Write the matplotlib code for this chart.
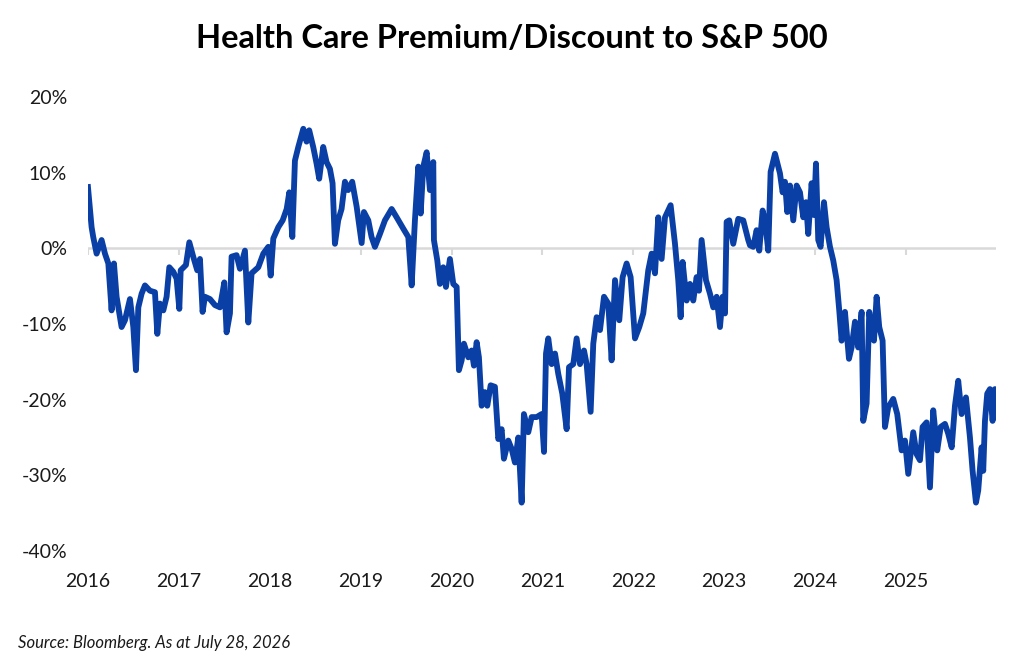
import matplotlib
matplotlib.use("Agg")
import matplotlib.pyplot as plt
from matplotlib.ticker import FuncFormatter

# decimal years after 2016 and premium/discount in %
t_part1 = [0.00, 0.04, 0.058, 0.095, 0.15, 0.187, 0.224, 0.26, 0.286, 0.315, 0.37, 0.407,
           0.462, 0.499, 0.528, 0.554, 0.59, 0.627, 0.682, 0.737, 0.763, 0.792, 0.829, 0.865,
           0.895, 0.939, 0.975, 1.005, 1.02, 1.078, 1.115, 1.158, 1.202, 1.232, 1.261, 1.287,
           1.342, 1.397, 1.452, 1.5, 1.525, 1.562, 1.58, 1.635, 1.672, 1.727, 1.764, 1.8,
           1.874, 1.929, 1.984, 2.01, 2.039, 2.094, 2.142, 2.186, 2.215, 2.248, 2.277, 2.314,
           2.369, 2.405, 2.434, 2.478, 2.515, 2.544, 2.588, 2.625, 2.662, 2.691, 2.717, 2.753,
           2.79, 2.827, 2.863, 2.907, 2.956, 3.011, 3.036, 3.084, 3.12, 3.157, 3.212, 3.267,
           3.341, 3.396, 3.469, 3.524, 3.561, 3.597, 3.634, 3.66, 3.689, 3.726, 3.762, 3.799]
v_part1 = [8.1, 2.8, 1.5, -0.7, 1.1, -0.7, -2.0, -8.2, -2.0, -6.4, -10.4, -9.5,
           -6.7, -10.4, -16.1, -7.8, -6.0, -4.9, -5.6, -5.8, -11.3, -7.3, -8.2, -6.4,
           -2.5, -3.1, -4.0, -8.0, -2.9, -2.2, 0.8, -1.1, -2.9, -1.4, -8.4, -6.4,
           -6.7, -7.5, -7.8, -4.5, -11.1, -8.6, -1.1, -0.9, -2.7, -0.3, -9.8, -3.3,
           -2.5, -0.7, 0.2, -3.6, 1.3, 2.8, 3.7, 5.2, 7.4, 1.5, 11.6, 13.4,
           15.8, 14.1, 15.6, 13.4, 11.2, 9.2, 13.4, 11.4, 10.5, 8.6, 0.6, 3.7,
           5.2, 8.8, 7.7, 8.8, 5.5, 0.7, 4.8, 3.7, 1.5, 0.2, 1.9, 3.7,
           5.2, 4.1, 2.6, 1.5, -4.9, 3.7, 10.8, 4.6, 10.8, 12.7, 7.7, 11.4]

t_part2 = [3.806, 3.843, 3.872, 3.909, 3.938, 3.982, 4.019, 4.056, 4.081, 4.111, 4.136, 4.184,
           4.221, 4.246, 4.276, 4.301, 4.331, 4.367, 4.393, 4.43, 4.477, 4.514, 4.551, 4.576,
           4.624, 4.661, 4.697, 4.734, 4.771, 4.796, 4.844, 4.881, 4.936, 4.991, 5.017, 5.039,
           5.064, 5.101, 5.138, 5.174, 5.218, 5.266, 5.292, 5.339, 5.376, 5.413, 5.457, 5.486,
           5.53, 5.559, 5.596, 5.633, 5.677, 5.724, 5.761, 5.798, 5.845, 5.882, 5.926, 5.97,
           6.018, 6.065, 6.109, 6.164, 6.201, 6.238, 6.274, 6.311, 6.348, 6.41, 6.458, 6.494,
           6.52, 6.542, 6.586, 6.623, 6.659, 6.696, 6.722, 6.751, 6.799, 6.843, 6.879, 6.916,
           6.953, 6.982, 7.008, 7.026, 7.055, 7.099, 7.154, 7.209, 7.264]
v_part2 = [1.1, -1.6, -4.7, -2.5, -5.1, -1.4, -4.7, -5.1, -16.1, -14.8, -12.6, -14.4,
           -13.5, -15.5, -12.4, -14.4, -20.8, -19.0, -20.8, -18.1, -18.3, -25.2, -23.9, -27.8,
           -25.4, -26.5, -28.3, -25.0, -33.6, -21.9, -24.3, -22.3, -22.3, -21.9, -26.9, -13.9,
           -11.9, -15.3, -13.9, -16.6, -19.2, -23.9, -15.7, -15.3, -11.9, -15.3, -13.5, -15.3,
           -21.6, -12.6, -9.1, -10.8, -6.4, -7.3, -14.8, -4.2, -9.5, -3.8, -2.0, -3.8,
           -11.9, -10.4, -8.6, -2.9, -0.7, -3.3, 4.1, -1.4, 4.1, 5.7, 0.6, -4.2,
           -9.1, -1.8, -6.9, -4.7, -6.9, -3.8, -5.6, 1.1, -4.2, -6.0, -7.8, -6.4,
           -10.4, -6.4, -8.6, 3.5, 3.7, 0.6, 3.9, 3.7, 1.1]

t_part3 = [7.283, 7.319, 7.356, 7.385, 7.422, 7.448, 7.484, 7.51, 7.558, 7.613, 7.642, 7.668,
           7.693, 7.723, 7.759, 7.796, 7.833, 7.869, 7.899, 7.924, 7.961, 7.987, 8.009, 8.034,
           8.06, 8.097, 8.126, 8.163, 8.199, 8.236, 8.265, 8.291, 8.328, 8.372, 8.401, 8.438,
           8.474, 8.511, 8.529, 8.566, 8.595, 8.621, 8.647, 8.676, 8.705, 8.742, 8.768, 8.804,
           8.859, 8.903, 8.951, 8.988, 9.024, 9.079, 9.116, 9.153, 9.182, 9.226, 9.263, 9.299,
           9.343, 9.381, 9.428, 9.464, 9.502, 9.538, 9.574, 9.611, 9.659, 9.703, 9.732, 9.769,
           9.794, 9.831, 9.849, 9.868, 9.893, 9.923, 9.952, 9.978, 9.986]
v_part3 = [0.4, 0.2, 2.4, -0.3, 5.0, 3.7, -0.3, 10.1, 12.5, 9.9, 7.4, 8.8,
           4.8, 8.3, 3.7, 8.3, 7.4, 4.1, 6.1, 1.9, 8.6, 4.4, 11.2, 1.1,
           0.2, 6.1, 2.8, 0.2, -1.6, -4.2, -8.2, -12.2, -8.4, -14.6, -13.1, -9.7,
           -13.1, -8.4, -22.8, -20.5, -8.4, -10.8, -12.2, -6.4, -10.4, -12.2, -23.6, -21.0,
           -19.9, -21.9, -26.7, -25.4, -29.8, -24.3, -27.2, -28.0, -23.6, -23.0, -31.6, -21.4,
           -26.7, -23.6, -23.2, -24.5, -26.3, -20.8, -17.5, -21.9, -19.7, -25.0, -29.4, -33.6,
           -32.0, -26.3, -29.4, -22.8, -19.2, -18.6, -22.8, -18.6, -21.0]

years = list(range(2016, 2026))
y_ticks = [20, 10, 0, -10, -20, -30, -40]

dates = [2016 + t for t in t_part1 + t_part2 + t_part3]
prem = v_part1 + v_part2 + v_part3

plt.rcParams['font.family'] = ['Lato', 'DejaVu Sans']

fig = plt.figure(figsize=(10.24, 6.68), dpi=100)
ax = fig.add_axes([0.0859, 0.1751, 0.8868, 0.6797])

ax.axhline(0, color='#d9d9d9', linewidth=1.8, zorder=1)
ax.vlines(years, -0.9, 0, color='#d9d9d9', linewidth=1.5, zorder=1)
ax.plot(dates, prem, color='#0a3fa6', linewidth=4.2, solid_joinstyle='round', zorder=3)

ax.set_xlim(2016, 2025.99)
ax.set_ylim(-40, 20)
ax.set_xticks(years)
ax.set_yticks(y_ticks)
ax.yaxis.set_major_formatter(FuncFormatter(lambda v, p: f"{v:.0f}%"))
ax.tick_params(axis='both', length=0, labelsize=14, labelcolor='#1a1a1a')
ax.tick_params(axis='y', pad=15)
ax.tick_params(axis='x', pad=16)
for s in ax.spines.values():
    s.set_visible(False)

fig.text(0.5, 0.943, "Health Care Premium/Discount to S&P 500", ha='center', va='center',
         fontsize=23.5, fontweight='bold', color='black')
fig.text(0.018, 0.037, "Source: Bloomberg. As at July 28, 2026", ha='left', va='center',
         fontsize=12, style='italic', color='#1a1a1a')

fig.savefig('out.png', dpi=100)
